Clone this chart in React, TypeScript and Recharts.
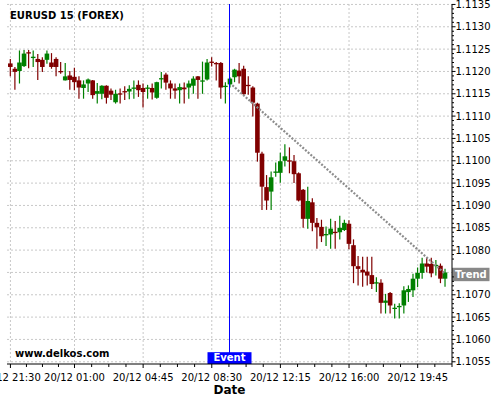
import React from 'react';
import { ComposedChart, Bar, Line, XAxis, YAxis, CartesianGrid, ReferenceLine, Label } from 'recharts';

// ---- data (EURUSD 15-minute candles) ----
const opens = [
  1.11218, 1.11206, 1.11201, 1.11212, 1.11243, 1.11230, 1.11228, 1.11226, 1.11226, 1.11220,
  1.11228, 1.11201, 1.11180, 1.11191, 1.11188, 1.11180, 1.11163, 1.11173, 1.11180, 1.11150,
  1.11150, 1.11168, 1.11157, 1.11131, 1.11151, 1.11156, 1.11155, 1.11162, 1.11170, 1.11163,
  1.11162, 1.11163, 1.11141, 1.11183, 1.11193, 1.11173, 1.11162, 1.11158, 1.11164, 1.11164,
  1.11168, 1.11189, 1.11179, 1.11182, 1.11222, 1.11219, 1.11219, 1.11165, 1.11171, 1.11187,
  1.11202, 1.11206, 1.11170, 1.11164, 1.11128, 1.11016, 1.10941, 1.10931, 1.10973, 1.10973,
  1.11000, 1.11001, 1.10999, 1.10972, 1.10935, 1.10870, 1.10907, 1.10861, 1.10852, 1.10834,
  1.10835, 1.10841, 1.10840, 1.10845, 1.10859, 1.10811, 1.10764, 1.10756, 1.10752, 1.10744,
  1.10727, 1.10727, 1.10682, 1.10704, 1.10669, 1.10673, 1.10676, 1.10706, 1.10710, 1.10736,
  1.10749, 1.10770, 1.10769, 1.10765, 1.10765, 1.10736,
];
const highs = [
  1.11228, 1.11210, 1.11247, 1.11248, 1.11248, 1.11247, 1.11239, 1.11232, 1.11247, 1.11241,
  1.11232, 1.11221, 1.11219, 1.11201, 1.11208, 1.11189, 1.11180, 1.11184, 1.11181, 1.11174,
  1.11169, 1.11169, 1.11162, 1.11159, 1.11162, 1.11167, 1.11169, 1.11180, 1.11180, 1.11173,
  1.11170, 1.11173, 1.11177, 1.11199, 1.11197, 1.11180, 1.11173, 1.11173, 1.11175, 1.11180,
  1.11189, 1.11190, 1.11222, 1.11228, 1.11232, 1.11221, 1.11221, 1.11176, 1.11187, 1.11206,
  1.11219, 1.11213, 1.11189, 1.11167, 1.11130, 1.11020, 1.10968, 1.10976, 1.10996, 1.11018,
  1.11037, 1.11030, 1.11013, 1.10974, 1.10937, 1.10942, 1.10916, 1.10872, 1.10868, 1.10853,
  1.10870, 1.10865, 1.10877, 1.10868, 1.10867, 1.10824, 1.10787, 1.10785, 1.10785, 1.10785,
  1.10739, 1.10735, 1.10702, 1.10706, 1.10680, 1.10681, 1.10719, 1.10721, 1.10747, 1.10761,
  1.10783, 1.10783, 1.10783, 1.10778, 1.10770, 1.10758,
];
const lows = [
  1.11189, 1.11159, 1.11173, 1.11210, 1.11207, 1.11210, 1.11181, 1.11199, 1.11217, 1.11206,
  1.11189, 1.11195, 1.11180, 1.11159, 1.11158, 1.11139, 1.11139, 1.11154, 1.11139, 1.11128,
  1.11138, 1.11128, 1.11136, 1.11128, 1.11128, 1.11136, 1.11138, 1.11139, 1.11143, 1.11119,
  1.11139, 1.11137, 1.11139, 1.11162, 1.11159, 1.11139, 1.11139, 1.11128, 1.11128, 1.11139,
  1.11150, 1.11139, 1.11150, 1.11180, 1.11211, 1.11180, 1.11139, 1.11128, 1.11164, 1.11176,
  1.11173, 1.11148, 1.11148, 1.11099, 1.10998, 1.10890, 1.10890, 1.10890, 1.10964, 1.10951,
  1.10987, 1.10972, 1.10950, 1.10909, 1.10850, 1.10848, 1.10842, 1.10803, 1.10818, 1.10809,
  1.10803, 1.10803, 1.10824, 1.10843, 1.10802, 1.10726, 1.10721, 1.10718, 1.10721, 1.10713,
  1.10706, 1.10658, 1.10658, 1.10658, 1.10647, 1.10647, 1.10658, 1.10684, 1.10695, 1.10717,
  1.10736, 1.10750, 1.10739, 1.10743, 1.10726, 1.10718,
];
const closes = [
  1.11210, 1.11199, 1.11220, 1.11240, 1.11241, 1.11233, 1.11221, 1.11210, 1.11240, 1.11210,
  1.11210, 1.11199, 1.11189, 1.11181, 1.11176, 1.11164, 1.11171, 1.11182, 1.11147, 1.11156,
  1.11168, 1.11141, 1.11148, 1.11150, 1.11150, 1.11154, 1.11161, 1.11164, 1.11158, 1.11154,
  1.11164, 1.11153, 1.11176, 1.11185, 1.11175, 1.11162, 1.11157, 1.11165, 1.11160, 1.11173,
  1.11184, 1.11181, 1.11180, 1.11220, 1.11221, 1.11218, 1.11164, 1.11168, 1.11184, 1.11204,
  1.11189, 1.11149, 1.11168, 1.11130, 1.11018, 1.10942, 1.10911, 1.10963, 1.10976, 1.10999,
  1.11010, 1.10999, 1.10970, 1.10911, 1.10870, 1.10910, 1.10861, 1.10851, 1.10831, 1.10836,
  1.10848, 1.10839, 1.10850, 1.10861, 1.10814, 1.10764, 1.10758, 1.10750, 1.10743, 1.10724,
  1.10728, 1.10682, 1.10687, 1.10676, 1.10671, 1.10675, 1.10710, 1.10713, 1.10736, 1.10749,
  1.10770, 1.10763, 1.10748, 1.10767, 1.10736, 1.10750,
];

const majorXTicks = [0, 14, 29, 44, 59, 74, 89];
const majorXLabels = ['19/12 21:30', '20/12 01:00', '20/12 04:45', '20/12 08:30', '20/12 12:15', '20/12 16:00', '20/12 19:45'];
const eventIndex = 47.875;
const trendX = [48.5, 95];
const trendY = [1.11169, 1.10747];
const yMin = 1.1055;
const yMax = 1.1135;

const UP = '#008000';
const DOWN = '#800000';
const FONT = 'DejaVu Sans';

const data = opens.map((o, i) => ({ i, o, h: highs[i], l: lows[i], c: closes[i], range: [lows[i], highs[i]] }));
const trendData = trendX.map((x, k) => ({ i: x, t: trendY[k] }));

const X_DOMAIN: [number, number] = [-0.75, 96.5];
const xTicks: number[] = [];
majorXTicks.forEach((a, k) => {
  const b = k + 1 < majorXTicks.length ? majorXTicks[k + 1] : a + 15;
  for (let q = 0; q < 4; q++) {
    const t = a + ((b - a) * q) / 4;
    if (t <= X_DOMAIN[1]) xTicks.push(t);
  }
});

const yTicks: number[] = [];
for (let k = 0; k <= Math.round((yMax - yMin) * 10000); k++) yTicks.push(Math.round((yMin + k * 0.0001) * 10000) / 10000);
const majorY = yTicks.filter((_, k) => k % 5 === 0);

// the "Trend" tag sits on the axis and hides what is under it
const hiddenByTrendTag = (v: number) => v > trendY[1] - 0.00004 && v < trendY[1] + 0.00026;

const Candle = (props: any) => {
  const { x, y, width, height, payload } = props;
  if (x == null || y == null || !payload) return null;
  const { o, h, l, c } = payload;
  const top = Math.min(y, y + height);
  const bot = Math.max(y, y + height);
  const ppu = (bot - top) / (h - l);
  const py = (v: number) => top + (h - v) * ppu;
  const cx = x + width / 2;
  const color = c >= o ? UP : DOWN;
  const bt = py(Math.max(o, c));
  const bb = py(Math.min(o, c));
  const bw = 4.6;
  return (
    <g>
      <line x1={cx} x2={cx} y1={top} y2={bot} stroke={color} strokeWidth={1.2} />
      <rect x={cx - bw / 2} y={bt} width={bw} height={Math.max(1.3, bb - bt)} fill={color} />
    </g>
  );
};

const XTick = (props: any) => {
  const { x, y, payload } = props;
  const idx = majorXTicks.indexOf(payload.value);
  const major = idx >= 0;
  return (
    <g>
      <line x1={x} x2={x} y1={y} y2={y + (major ? 4 : 3)} stroke="#000" strokeWidth={1} />
      {major && (
        <text x={x} y={y + 17.3} textAnchor="middle" fontSize={10} fill="#000" fontFamily={FONT}>
          {majorXLabels[idx]}
        </text>
      )}
    </g>
  );
};

const YTick = (props: any) => {
  const { x, y, payload } = props;
  const v = payload.value as number;
  if (hiddenByTrendTag(v)) return <g />;
  const k = Math.round((v - yMin) * 10000);
  const major = k % 5 === 0;
  return (
    <g>
      <line x1={x} x2={x + (major ? 3.5 : 2)} y1={y} y2={y} stroke="#000" strokeWidth={1} />
      {major && (
        <text x={x + 3.5} y={y + 3.6} fontSize={10} fill="#000" fontFamily={FONT}>
          {v.toFixed(4)}
        </text>
      )}
    </g>
  );
};

const EventLabel = (props: any) => {
  const vb = props.viewBox || {};
  const cx = vb.x;
  const bottom = vb.y + vb.height;
  return (
    <g>
      <rect x={cx - 22} y={bottom - 11.8} width={44} height={11.8} fill="#0000ff" />
      <text x={cx} y={bottom - 3} textAnchor="middle" fontSize={10} fontWeight="bold" fill="#fff" fontFamily={FONT}>
        Event
      </text>
    </g>
  );
};

const TrendLabel = (props: any) => {
  const vb = props.viewBox || {};
  const left = vb.x + vb.width;
  const ly = vb.y;
  return (
    <g>
      <rect x={left} y={ly - 6} width={37.5} height={13.4} fill="#888888" />
      <text x={left + 3} y={ly + 4.6} fontSize={10} fontWeight="bold" fill="#fff" fontFamily={FONT}>
        Trend
      </text>
    </g>
  );
};

export default function App() {
  return (
    <div style={{ position: 'absolute', left: 0, top: 0, width: 500, height: 400, fontFamily: FONT, background: '#fff' }}>
      <ComposedChart width={500} height={400} data={data} margin={{ top: 4, right: 0, bottom: 0, left: 7 }}>
        <CartesianGrid stroke="#c8c8c8" strokeDasharray="2 2" horizontalValues={majorY} verticalValues={majorXTicks} />
        <XAxis
          dataKey="i"
          type="number"
          domain={X_DOMAIN}
          allowDataOverflow
          ticks={xTicks}
          interval={0}
          height={36}
          tickLine={false}
          tickSize={0}
          tickMargin={0}
          axisLine={{ stroke: '#000' }}
          tick={(p: any) => <XTick {...p} />}
        >
          <Label value="Date" position="insideBottom" offset={6.5} fontSize={12} fontWeight="bold" fill="#000" fontFamily={FONT} />
        </XAxis>
        <YAxis
          orientation="right"
          type="number"
          domain={[1.10545, 1.11351]}
          allowDataOverflow
          ticks={yTicks}
          interval={0}
          width={48}
          tickLine={false}
          tickSize={0}
          tickMargin={0}
          axisLine={{ stroke: '#000' }}
          tick={(p: any) => <YTick {...p} />}
        />
        <Bar dataKey="range" barSize={4} shape={(p: any) => <Candle {...p} />} isAnimationActive={false} />
        <Line
          data={trendData}
          dataKey="t"
          type="linear"
          stroke="#8c8c8c"
          strokeWidth={2.2}
          strokeDasharray="2 1.6"
          dot={false}
          activeDot={false}
          isAnimationActive={false}
        />
        <ReferenceLine x={eventIndex} stroke="#0000ff" strokeWidth={1} label={(p: any) => <EventLabel {...p} />} />
        <ReferenceLine y={trendY[1]} stroke="none" label={(p: any) => <TrendLabel {...p} />} />
        <text x={10} y={18.7} fontSize={10} fontWeight="bold" fill="#000" fontFamily={FONT}>
          EURUSD 15 (FOREX)
        </text>
        <text x={15} y={357.3} fontSize={10} fontWeight="bold" fill="#000" fontFamily={FONT}>
          www.delkos.com
        </text>
      </ComposedChart>
    </div>
  );
}
